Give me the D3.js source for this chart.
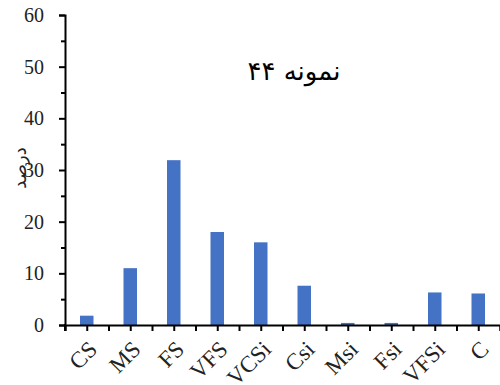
<!DOCTYPE html>
<html>
<head>
<meta charset="utf-8">
<script src="https://cdn.jsdelivr.net/npm/d3@7"></script>
<style>
  body { margin: 0; background: #fff; }
  svg { display: block; }
</style>
</head>
<body>
<svg id="chart" width="500" height="385"></svg>
<script>
// Grain-size fractions of sample 44
const categories = ["CS", "MS", "FS", "VFS", "VCSi", "Csi", "Msi", "Fsi", "VFSi", "C"];
const values = [1.8, 11, 31.9, 18, 16, 7.6, 0.4, 0.4, 6.3, 6.1];
const yTicks = [0, 10, 20, 30, 40, 50, 60];
const yMinorTicks = [5, 15, 25, 35, 45, 55];
const titleText = "نمونه ۴۴";
const yLabel = "درصد";

const svg = d3.select("#chart");
const font = "'Liberation Serif', 'Times New Roman', serif";

const x = d3.scaleBand().domain(categories).range([65, 500]).paddingInner(0).paddingOuter(0);
const y = d3.scaleLinear().domain([0, 60]).range([325, 15]);
const barW = 13.5;

// bars
svg.append("g").selectAll("rect")
  .data(categories)
  .join("rect")
  .attr("x", (d) => x(d) + x.bandwidth() / 2 - barW / 2)
  .attr("y", (d, i) => y(values[i]))
  .attr("width", barW)
  .attr("height", (d, i) => y(0) - y(values[i]))
  .attr("fill", "#4472C4");

// y axis with major and minor ticks
const yAxis = svg.append("g").attr("transform", "translate(65,0)")
  .call(d3.axisLeft(y).tickValues(yTicks).tickSize(6).tickPadding(15).tickFormat(d3.format("d")));
svg.append("g").attr("transform", "translate(65,0)")
  .call(d3.axisLeft(y).tickValues(yMinorTicks).tickSize(4).tickFormat(""))
  .call((g) => g.select(".domain").remove());

// x axis: ticks at category boundaries and centers
const boundaries = categories.map((d) => x(d)).concat([x.range()[1]]);
const centers = categories.map((d) => x(d) + x.bandwidth() / 2);
const xPos = d3.scaleLinear().domain([65, 500]).range([65, 500]);
svg.append("g").attr("transform", "translate(0,325)")
  .call(d3.axisBottom(xPos).tickValues(boundaries.concat(centers)).tickSize(6).tickFormat(""));

svg.selectAll(".domain").attr("stroke", "#000").attr("stroke-width", 2);
svg.selectAll(".tick line").attr("stroke", "#000").attr("stroke-width", 2);
yAxis.selectAll(".tick text")
  .attr("font-family", font).attr("font-size", 20).attr("fill", "#222");

// extend y axis slightly below x axis
svg.append("line").attr("x1", 65).attr("x2", 65).attr("y1", 324).attr("y2", 331)
  .attr("stroke", "#000").attr("stroke-width", 2);

// category labels, rotated
svg.append("g").selectAll("text")
  .data(categories)
  .join("text")
  .attr("transform", (d) => `translate(${x(d) + x.bandwidth() / 2 + 2},341) rotate(-45)`)
  .attr("text-anchor", "end")
  .attr("dy", "0.6em")
  .attr("font-family", font)
  .attr("font-size", 23)
  .attr("fill", "#222")
  .text((d) => d);

// title
svg.append("text")
  .attr("x", 294).attr("y", 80)
  .attr("text-anchor", "middle")
  .attr("font-family", "'DejaVu Sans', 'Noto Sans', sans-serif")
  .attr("font-size", 26)
  .attr("fill", "#000")
  .text(titleText);

// y axis title
svg.append("text")
  .attr("transform", "translate(26,168) rotate(-90)")
  .attr("text-anchor", "middle")
  .attr("font-family", "'DejaVu Sans', sans-serif")
  .attr("font-size", 18)
  .attr("fill", "#222")
  .text(yLabel);
</script>
</body>
</html>
